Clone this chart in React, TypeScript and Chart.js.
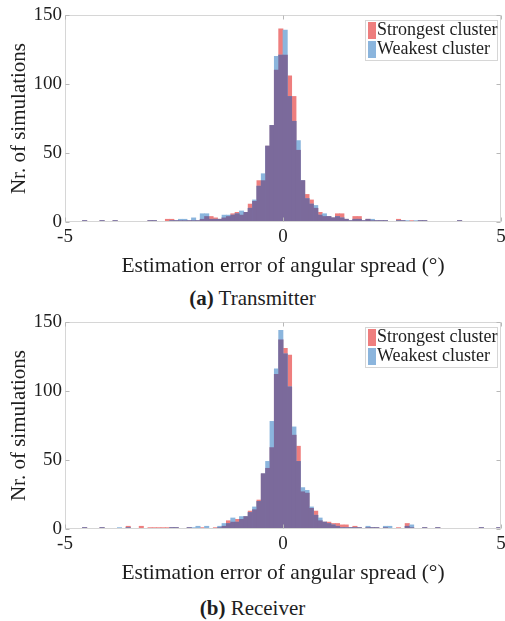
import React, { useEffect, useRef } from "react";
import { Chart, registerables } from "chart.js";

Chart.register(...registerables);

// ---- data ----
const BIN_START = -5;
const BIN_WIDTH = 0.1;
const BIN_COUNT = 100;
const binCenters: number[] = Array.from({ length: BIN_COUNT }, (_, i) =>
  Number((BIN_START + BIN_WIDTH * (i + 0.5)).toFixed(2))
);

const seriesLabels = ["Strongest cluster", "Weakest cluster"];
const xTicks = [-5, 0, 5];
const yTicks = [0, 50, 100, 150];
const xTitle = "Estimation error of angular spread (°)";
const yTitle = "Nr. of simulations";

// Transmitter
const txStrongest = [
  0, 0, 0, 0, 1, 0, 0, 0, 1, 0,
  0, 1, 0, 0, 0, 0, 0, 0, 0, 1,
  1, 0, 0, 2, 2, 1, 1, 1, 1, 1,
  1, 2, 4, 4, 3, 2, 3, 4, 6, 7,
  5, 7, 13, 15, 30, 30, 55, 70, 110, 140,
  121, 106, 91, 52, 30, 20, 16, 10, 7, 4,
  4, 3, 6, 6, 2, 1, 4, 4, 1, 2,
  1, 1, 1, 1, 0, 0, 2, 1, 0, 1,
  0, 1, 1, 0, 0, 0, 0, 0, 0, 0,
  1, 0, 0, 0, 0, 0, 0, 0, 0, 0,
];
const txWeakest = [
  0, 0, 0, 0, 1, 0, 0, 0, 1, 0,
  0, 1, 0, 0, 0, 0, 0, 0, 0, 1,
  1, 0, 0, 0, 1, 1, 2, 2, 1, 3,
  1, 6, 6, 2, 2, 2, 5, 5, 5, 6,
  8, 7, 10, 16, 26, 35, 55, 70, 120, 121,
  139, 91, 73, 59, 30, 17, 13, 12, 5, 6,
  4, 3, 4, 3, 2, 1, 2, 2, 1, 2,
  2, 1, 1, 1, 0, 0, 1, 1, 1, 0,
  1, 1, 1, 0, 0, 0, 0, 0, 0, 0,
  1, 0, 0, 0, 0, 0, 0, 0, 0, 0,
];

// Receiver
const rxStrongest = [
  0, 0, 0, 0, 1, 0, 0, 0, 1, 0,
  0, 0, 0, 0, 2, 0, 0, 2, 0, 1,
  1, 1, 1, 1, 1, 1, 0, 0, 1, 0,
  0, 1, 0, 0, 1, 1, 2, 6, 5, 7,
  7, 9, 13, 14, 21, 40, 44, 59, 112, 137,
  131, 126, 68, 60, 27, 26, 15, 13, 6, 5,
  5, 4, 4, 3, 3, 1, 2, 1, 0, 1,
  1, 1, 0, 1, 0, 0, 1, 0, 4, 1,
  0, 0, 1, 0, 0, 1, 0, 0, 0, 0,
  0, 0, 0, 0, 0, 1, 0, 0, 0, 1,
];
const rxWeakest = [
  0, 0, 0, 0, 1, 0, 0, 0, 1, 0,
  0, 0, 1, 0, 1, 0, 0, 0, 0, 0,
  0, 0, 0, 0, 1, 1, 0, 0, 1, 1,
  2, 0, 2, 0, 0, 2, 4, 4, 8, 5,
  9, 9, 12, 16, 20, 40, 49, 78, 116, 144,
  127, 103, 74, 49, 30, 28, 16, 10, 8, 5,
  4, 3, 2, 1, 1, 1, 1, 1, 0, 2,
  1, 1, 0, 2, 2, 0, 0, 0, 2, 3,
  0, 0, 1, 0, 0, 1, 0, 0, 0, 0,
  0, 0, 0, 0, 0, 1, 0, 0, 0, 1,
];

// ---- styles ----
const FONT = "'Liberation Serif', 'Times New Roman', Times, serif";
const TEXT = "#1e1e1e";
const RED = "#EE7E7E";
const BLUE = "#8BB5DD";
const PURPLE = "#7B6A9B";
const FRAME = "#d6d6d6";
const TICKC = "#b8b8b8";

const framePlugin = {
  id: "frame",
  afterDatasetsDraw(chart: any) {
    const { ctx, chartArea: a, scales } = chart;
    ctx.save();
    ctx.strokeStyle = FRAME;
    ctx.lineWidth = 1;
    const l = Math.round(a.left) + 0.5;
    const t = Math.round(a.top) + 0.5;
    const r = Math.round(a.right) - 0.5;
    const b = Math.round(a.bottom) - 0.5;
    ctx.strokeRect(l, t, r - l, b - t);
    ctx.strokeStyle = TICKC;
    const tl = 4;
    ctx.beginPath();
    xTicks.forEach((v) => {
      const px = Math.round(scales.x.getPixelForValue(v)) + 0.5;
      ctx.moveTo(px, t);
      ctx.lineTo(px, t + tl);
      ctx.moveTo(px, b);
      ctx.lineTo(px, b - tl);
    });
    yTicks.forEach((v) => {
      const py = Math.round(scales.y.getPixelForValue(v)) + 0.5;
      ctx.moveTo(l, py);
      ctx.lineTo(l + tl, py);
      ctx.moveTo(r, py);
      ctx.lineTo(r - tl, py);
    });
    ctx.stroke();
    ctx.restore();
  },
};

const legendPlugin = {
  id: "boxLegend",
  afterDraw(chart: any) {
    const { ctx, chartArea: a } = chart;
    const w = 132;
    const h = 40;
    const x0 = Math.round(a.right) - 136 + 0.5;
    const y0 = Math.round(a.top) + 5 + 0.5;
    ctx.save();
    ctx.fillStyle = "#ffffff";
    ctx.fillRect(x0, y0, w, h);
    ctx.strokeStyle = FRAME;
    ctx.lineWidth = 1;
    ctx.strokeRect(x0, y0, w, h);
    const ds = chart.data.datasets;
    for (let i = 0; i < 2; i++) {
      ctx.fillStyle = ds[i].backgroundColor;
      ctx.fillRect(x0 + 2.5, y0 + 1.5 + i * 19, 8, 17);
      ctx.fillStyle = TEXT;
      ctx.font = `18px ${FONT}`;
      ctx.textBaseline = "middle";
      ctx.textAlign = "left";
      ctx.fillText(ds[i].label, x0 + 11.5, y0 + 10 + i * 19);
    }
    ctx.restore();
  },
};

function HistChart({ strongest, weakest }: { strongest: number[]; weakest: number[] }) {
  const ref = useRef<HTMLCanvasElement>(null);
  useEffect(() => {
    if (!ref.current) return;
    const overlap = strongest.map((v, i) => Math.min(v, weakest[i]));
    const toPts = (arr: number[]) => binCenters.map((x, i) => ({ x, y: arr[i] }));
    const chart = new Chart(ref.current, {
      type: "bar",
      data: {
        datasets: [
          { label: seriesLabels[0], data: toPts(strongest), backgroundColor: RED, order: 2 } as any,
          { label: seriesLabels[1], data: toPts(weakest), backgroundColor: BLUE, order: 1 } as any,
          { label: "overlap", data: toPts(overlap), backgroundColor: PURPLE, order: 0 } as any,
        ],
      },
      options: {
        animation: false,
        responsive: false,
        devicePixelRatio: 1,
        datasets: {
          bar: { grouped: false, barPercentage: 1, categoryPercentage: 1, borderWidth: 0 },
        } as any,
        layout: { padding: { top: 15, right: 4, left: 0, bottom: 0 } },
        plugins: { legend: { display: false }, tooltip: { enabled: false } },
        scales: {
          x: {
            type: "linear",
            min: -5,
            max: 5,
            offset: false,
            afterFit: (s: any) => {
              s.height = 63;
              s.paddingLeft = 0;
              s.paddingRight = 0;
            },
            afterBuildTicks: (s: any) => {
              s.ticks = xTicks.map((v) => ({ value: v }));
            },
            grid: { display: false, drawTicks: false, offset: false },
            border: { display: false },
            ticks: {
              padding: 4,
              color: TEXT,
              maxRotation: 0,
              autoSkip: false,
              font: { family: FONT, size: 19 },
            },
            title: {
              display: true,
              text: xTitle,
              color: TEXT,
              font: { family: FONT, size: 21.5 },
              padding: { top: 0, bottom: 6 },
            },
          },
          y: {
            min: 0,
            max: 150,
            afterFit: (s: any) => {
              s.width = 65;
            },
            afterBuildTicks: (s: any) => {
              s.ticks = yTicks.map((v) => ({ value: v }));
            },
            grid: { display: false, drawTicks: false },
            border: { display: false },
            ticks: {
              padding: 3,
              color: TEXT,
              font: { family: FONT, size: 19 },
            },
            title: {
              display: true,
              text: yTitle,
              color: TEXT,
              font: { family: FONT, size: 21 },
              padding: { top: 7, bottom: 0 },
            },
          },
        },
      } as any,
      plugins: [framePlugin, legendPlugin],
    });
    return () => chart.destroy();
  }, [strongest, weakest]);
  return <canvas ref={ref} width={505} height={285} style={{ display: "block" }} />;
}

const captionStyle: React.CSSProperties = {
  position: "absolute",
  left: 0,
  width: 505,
  textAlign: "center",
  fontFamily: FONT,
  fontSize: 21,
  lineHeight: "24px",
  color: TEXT,
};

export default function App() {
  return (
    <div style={{ position: "absolute", left: 0, top: 0, width: 505, height: 621, background: "#fff" }}>
      <div style={{ position: "absolute", left: 0, top: 0 }}>
        <HistChart strongest={txStrongest} weakest={txWeakest} />
      </div>
      <div style={{ ...captionStyle, top: 286 }}>
        <b>(a)</b> Transmitter
      </div>
      <div style={{ position: "absolute", left: 0, top: 307 }}>
        <HistChart strongest={rxStrongest} weakest={rxWeakest} />
      </div>
      <div style={{ ...captionStyle, top: 596 }}>
        <b>(b)</b> Receiver
      </div>
    </div>
  );
}
